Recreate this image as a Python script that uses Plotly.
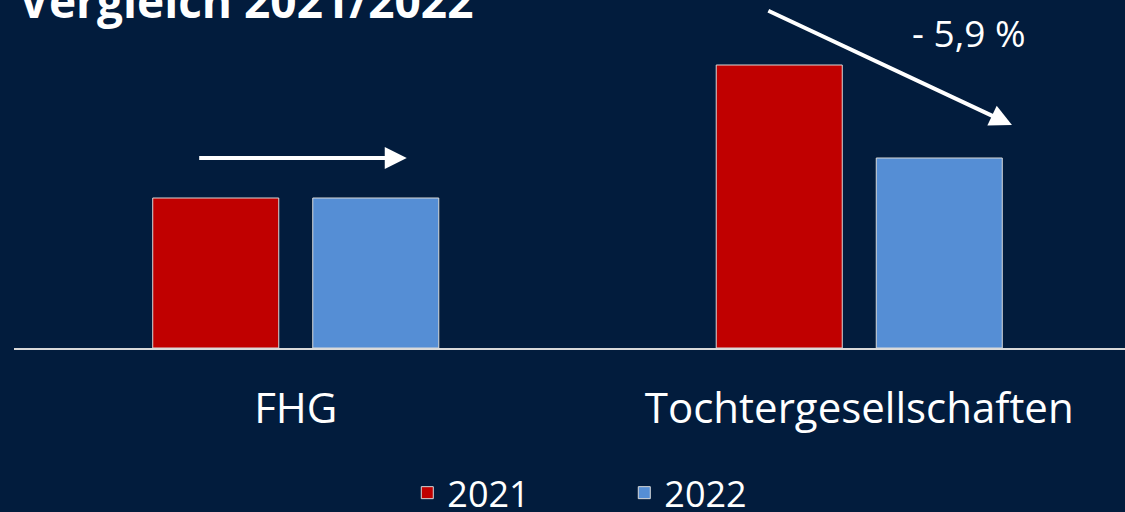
import plotly.graph_objects as go

categories = ["FHG", "Tochtergesellschaften"]
years = ["2021", "2022"]
values_2021 = [150, 283]
values_2022 = [150, 190]
colors = ["#c00000", "#558ed5"]
title_text = "Vergleich 2021/2022"
change_text = "- 5,9 %"

BG = "#021c3d"
FONT = "Open Sans, Lato, sans-serif"

fig = go.Figure()
for name, vals, col in zip(years, [values_2021, values_2022], colors):
    fig.add_trace(go.Bar(
        x=categories, y=vals, name=name,
        marker=dict(color=col, line=dict(color="#d9d9d9", width=1)),
    ))

# arrows (positioned relative to category axis & data values)
fig.add_annotation(
    x=0.197, y=values_2021[0] + 40, ax=-0.174, ay=values_2021[0] + 40,
    xref="x", yref="y", axref="x", ayref="y",
    showarrow=True, arrowhead=2, arrowsize=1.1, arrowwidth=4, arrowcolor="white", text="",
)
fig.add_annotation(
    x=1.271, y=223, ax=0.836, ay=338,
    xref="x", yref="y", axref="x", ayref="y",
    showarrow=True, arrowhead=2, arrowsize=1.1, arrowwidth=4, arrowcolor="white", text="",
)
fig.add_annotation(
    x=1.195, y=316, xref="x", yref="y", text=change_text, showarrow=False,
    font=dict(family=FONT, size=37, color="white"), xanchor="center", yanchor="middle",
)
fig.add_annotation(
    x=0, y=1, xref="paper", yref="paper", xanchor="left", yanchor="bottom",
    xshift=3, yshift=-33, text="<b>" + title_text + "</b>", showarrow=False,
    font=dict(family=FONT, size=46, color="white"),
)

fig.update_layout(
    width=1125, height=512,
    paper_bgcolor=BG, plot_bgcolor=BG,
    margin=dict(l=14, r=0, t=0, b=164, autoexpand=False),
    barmode="group", bargap=0.432, bargroupgap=0.2125,
    showlegend=True,
    legend=dict(
        orientation="h", x=0.354, xanchor="left", y=-0.416, yanchor="middle",
        font=dict(family=FONT, size=36, color="white"),
        entrywidth=172, entrywidthmode="pixels", bgcolor="rgba(0,0,0,0)",
    ),
    xaxis=dict(
        range=[-0.5, 1.4716], showline=True, linecolor="#d9d9d9", linewidth=2,
        showgrid=False, zeroline=False, ticks="", automargin=False,
        tickfont=dict(family=FONT, size=42, color="white"),
        ticklabelstandoff=23,
    ),
    yaxis=dict(range=[0, 348], visible=False, showgrid=False, zeroline=False, automargin=False),
)

fig.write_html(
    "out.html",
    config={"displayModeBar": False},
    post_script="document.body.style.margin='0';document.body.style.background='%s';" % BG,
)
